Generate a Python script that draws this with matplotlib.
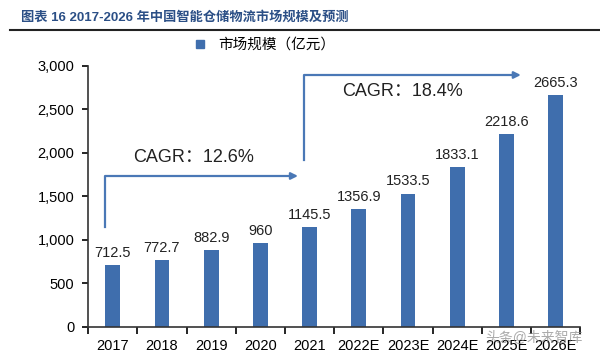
import matplotlib.pyplot as plt
from matplotlib.lines import Line2D

years = ["2017", "2018", "2019", "2020", "2021", "2022E", "2023E", "2024E", "2025E", "2026E"]
market = [712.5, 772.7, 882.9, 960, 1145.5, 1356.9, 1533.5, 1833.1, 2218.6, 2665.3]
value_labels = ["712.5", "772.7", "882.9", "960", "1145.5", "1356.9", "1533.5", "1833.1", "2218.6", "2665.3"]
cagr_texts = ["CAGR：12.6%", "CAGR：18.4%"]

plt.rcParams["font.family"] = ["Liberation Sans", "Noto Sans CJK SC", "DejaVu Sans"]

bar_color = "#3F6EAD"
arrow_color = "#4A78B6"

fig = plt.figure(figsize=(6, 3.56), dpi=100)
ax = fig.add_axes([0.147, 0.0815, 0.82, 0.7335])

x = list(range(len(years)))
ax.bar(x, market, width=0.3, color=bar_color)

for xi, v, lab in zip(x, market, value_labels):
    ax.text(xi, v + 60, lab, ha="center", va="bottom", fontsize=10.5, color="#222222")

ax.set_xlim(-0.5, len(years) - 0.5)
ax.set_ylim(0, 3000)
ax.set_yticks(range(0, 3001, 500))
ax.set_yticklabels([f"{t:,}" for t in range(0, 3001, 500)], fontsize=10.5)
ax.set_xticks([i - 0.5 for i in range(len(years) + 1)])
ax.set_xticklabels([])
ax.set_xticks(x, minor=True)
ax.set_xticklabels(years, minor=True, fontsize=10.5)
ax.tick_params(axis="x", which="major", direction="out", length=5, width=1.2)
ax.tick_params(axis="x", which="minor", length=0, pad=9)
ax.tick_params(axis="y", direction="out", length=4, width=1.2, pad=6)
for s in ["top", "right"]:
    ax.spines[s].set_visible(False)
for s in ["left", "bottom"]:
    ax.spines[s].set_linewidth(1.2)
    ax.spines[s].set_color("#333333")

# CAGR arrows
ax.plot([-0.15, -0.15, 3.62], [1150, 1735, 1735], color=arrow_color, lw=1.6)
ax.annotate("", xy=(3.82, 1735), xytext=(3.57, 1735),
            arrowprops=dict(arrowstyle="-|>", color=arrow_color, lw=1.6, mutation_scale=10))
ax.plot([3.88, 3.88, 8.15], [1920, 2895, 2895], color=arrow_color, lw=1.6)
ax.annotate("", xy=(8.35, 2895), xytext=(8.1, 2895),
            arrowprops=dict(arrowstyle="-|>", color=arrow_color, lw=1.6, mutation_scale=10))
ax.text(0.41, 1950, cagr_texts[0], fontsize=13, ha="left", va="center", color="#222222")
ax.text(4.66, 2700, cagr_texts[1], fontsize=13, ha="left", va="center", color="#222222")

handle = Line2D([], [], marker="s", linestyle="none", color=bar_color, markersize=6)
ax.legend([handle], ["市场规模（亿元）"], loc="center", bbox_to_anchor=(0.35, 1.08),
          frameon=False, fontsize=10.5, handletextpad=0.3, borderaxespad=0)

fig.text(0.035, 0.95, "图表 16 2017-2026 年中国智能仓储物流市场规模及预测", fontsize=9.5,
         fontweight="bold", color="#2B4F86", ha="left", va="center")
fig.add_artist(Line2D([0.017, 1.0], [0.915, 0.915], color="#222222", lw=1.5))

fig.text(0.89, 0.05, "头条@未来智库", fontsize=10, color="#888888", alpha=0.7, ha="center", va="center")

fig.savefig("out.png", dpi=100)
